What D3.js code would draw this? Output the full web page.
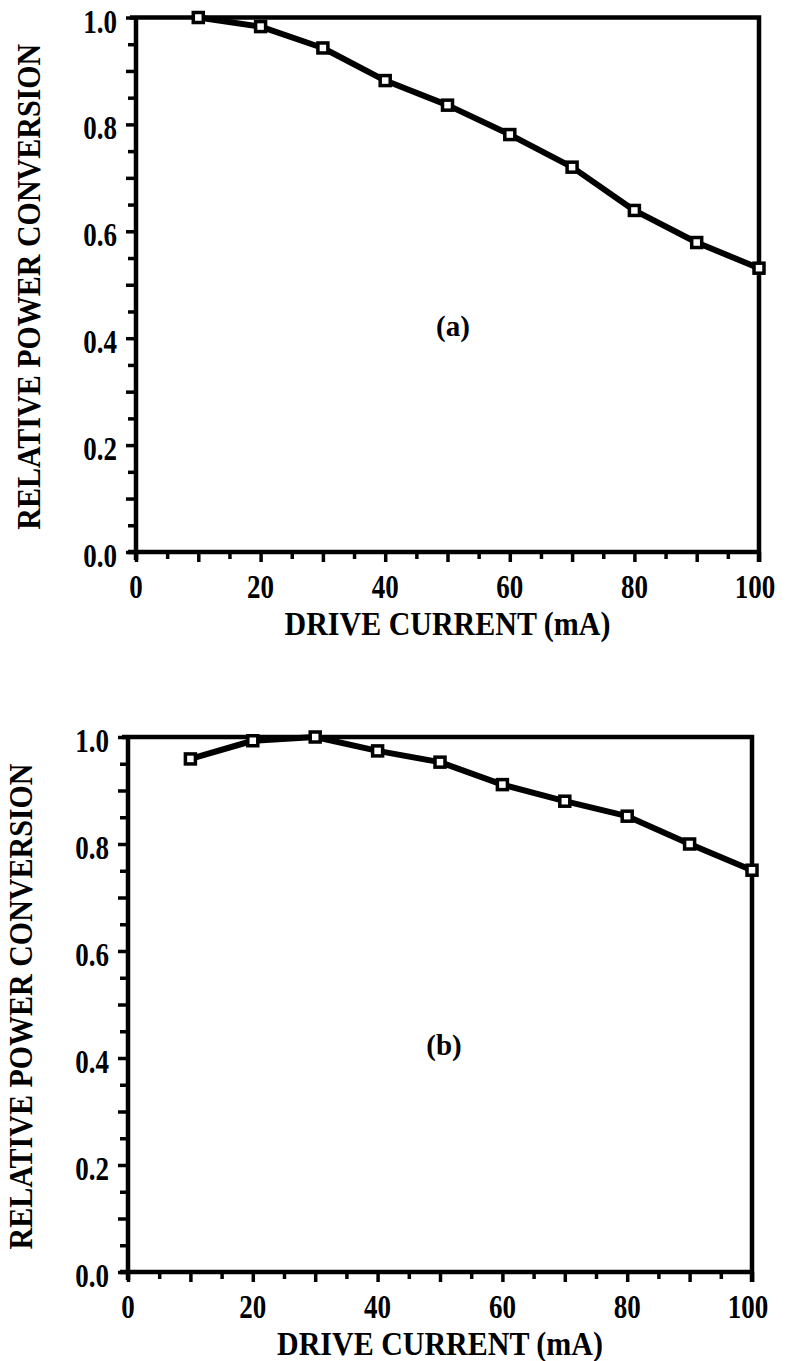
<!DOCTYPE html>
<html>
<head>
<meta charset="utf-8">
<script src="https://cdn.jsdelivr.net/npm/d3@7"></script>
<style>
  html, body { margin: 0; padding: 0; background: #fff; }
  svg { display: block; }
</style>
</head>
<body>
<svg id="chart" width="792" height="1361"></svg>
<script>
// ---- data ----
const currentA = [10, 20, 30, 40, 50, 60, 70, 80, 90, 100];
const conversionA = [1.0, 0.983, 0.943, 0.882, 0.836, 0.781, 0.720, 0.639, 0.579, 0.531];
const currentB = [10, 20, 30, 40, 50, 60, 70, 80, 90, 100];
const conversionB = [0.959, 0.993, 1.0, 0.974, 0.953, 0.911, 0.880, 0.852, 0.800, 0.751];
const xTickLabels = [0, 20, 40, 60, 80, 100];
const yTickLabels = [0.0, 0.2, 0.4, 0.6, 0.8, 1.0];
const xMinorTicks = d3.range(0, 101, 5);
const yMinorTicks = d3.range(0, 21, 1).map(d => d / 20);
const xTitle = "DRIVE CURRENT (mA)";
const yTitle = "RELATIVE POWER CONVERSION";
const panelLabels = ["(a)", "(b)"];

const FONT = "'Liberation Serif', serif";
const svg = d3.select("#chart");

function txt(sel) {
  return sel.attr("font-family", FONT).attr("font-weight", "bold").attr("fill", "#000");
}

function drawPanel(cfg) {
  const { x0, x1, y0, y1, xs, ys, label, labelX } = cfg;
  const x = d3.scaleLinear().domain([0, 100]).range([x0, x1]);
  const y = d3.scaleLinear().domain([0, 1]).range([y0, y1]);
  const g = svg.append("g");

  // bottom axis
  const xAxis = d3.axisBottom(x).tickValues(xMinorTicks).tickSize(8).tickFormat("");
  const gx = g.append("g").attr("transform", `translate(0,${y0})`).call(xAxis);
  gx.select(".domain").attr("stroke", "#000").attr("stroke-width", 4.5)
    .attr("d", `M${x0 - 8},0H${x1}`);
  gx.selectAll(".tick line").attr("stroke", "#000").attr("stroke-width", 3.5)
    .attr("y2", (d) => d % 10 === 0 ? 10 : 7);

  // left axis
  const yAxis = d3.axisLeft(y).tickValues(yMinorTicks).tickSize(8).tickFormat("");
  const gy = g.append("g").attr("transform", `translate(${x0},0)`).call(yAxis);
  gy.select(".domain").attr("stroke", "#000").attr("stroke-width", 4.5)
    .attr("d", `M0,${y0 + 8}V${y1}`);
  gy.selectAll(".tick line").attr("stroke", "#000").attr("stroke-width", 3.5)
    .attr("x2", (d) => Math.round(d * 20) % 2 === 0 ? -10 : -8);

  // top and right frame
  g.append("path")
    .attr("d", `M${x0 - 6},${y(1)}H${x(100)}V${y(0) + 10}`)
    .attr("fill", "none").attr("stroke", "#000").attr("stroke-width", 4.5);

  // tick labels
  g.selectAll(".xl").data(xTickLabels).enter().append("text")
    .attr("transform", d => `translate(${x(d) - (d === 100 ? 4 : 0)},${y0 + 46}) scale(1,1.25)`)
    .attr("text-anchor", "middle").attr("font-size", 27)
    .call(txt)
    .text(d => d);
  g.selectAll(".yl").data(yTickLabels).enter().append("text")
    .attr("transform", d => `translate(${x0 - 19},${y(d) + 15}) scale(1,1.25)`)
    .attr("text-anchor", "end").attr("font-size", 27)
    .call(txt)
    .text(d => d3.format(".1f")(d));

  // axis titles
  g.append("text")
    .attr("transform", `translate(${(x0 + x1) / 2},${y0 + 83}) scale(1,1.1)`)
    .attr("text-anchor", "middle").attr("font-size", 30)
    .call(txt)
    .text(xTitle);
  g.append("text")
    .attr("transform", `translate(${x0 - 96},${(y0 + y1) / 2 + 2}) rotate(-90) scale(1,1.15)`)
    .attr("text-anchor", "middle").attr("font-size", 30)
    .call(txt)
    .text(yTitle);

  // panel label
  g.append("text")
    .attr("x", labelX).attr("y", y(0.42) + 8)
    .attr("text-anchor", "middle").attr("font-size", 29)
    .call(txt)
    .text(label);

  // data line
  const pts = xs.map((v, i) => [v, ys[i]]);
  g.append("path").datum(pts)
    .attr("fill", "none").attr("stroke", "#000").attr("stroke-width", 6)
    .attr("stroke-linejoin", "round")
    .attr("d", d3.line().x(d => x(d[0])).y(d => y(d[1])));

  // markers
  g.selectAll(".m").data(pts).enter().append("rect")
    .attr("x", d => x(d[0]) - 5).attr("y", d => y(d[1]) - 5)
    .attr("width", 10).attr("height", 10)
    .attr("fill", "#fff").attr("stroke", "#000").attr("stroke-width", 3.5);
}

drawPanel({ x0: 136, x1: 759, y0: 552, y1: 17.5, xs: currentA, ys: conversionA, label: panelLabels[0], labelX: 453 });
drawPanel({ x0: 128, x1: 752, y0: 1272, y1: 737, xs: currentB, ys: conversionB, label: panelLabels[1], labelX: 444 });
</script>
</body>
</html>
